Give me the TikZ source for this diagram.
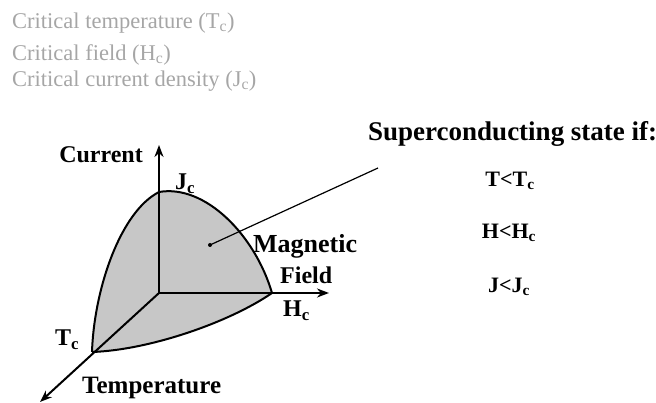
\documentclass[tikz,border=0pt]{standalone}
\usepackage{fontspec}
\setmainfont{Liberation Serif}
\usetikzlibrary{positioning, arrows.meta}

\begin{document}
\begin{tikzpicture}[x=1pt, y=-1pt,
  >={Stealth[length=12pt, width=9pt]},
  crit/.style={anchor=west, text=black!35, font=\fontsize{22.5}{24}\selectfont, inner sep=0pt},
  axlbl/.style={font=\bfseries\fontsize{24}{26}\selectfont, inner sep=0pt},
  cond/.style={font=\bfseries\fontsize{22}{24}\selectfont, inner sep=0pt},
  axis/.style={draw, line width=2pt, ->},
  rim/.style={draw, line width=2pt, line join=round}]
\useasboundingbox (0,0) rectangle (656,403);
% critical quantities
\node[crit] (ct) at (12,23) {Critical temperature (T\textsubscript{c})};
\node[crit] (cf) at (12,55) {Critical field (H\textsubscript{c})};
\node[crit] (cj) at (12,81) {Critical current density (J\textsubscript{c})};
% axes points
\coordinate (O)    at (159,293);
\coordinate (Jc)   at (159,192);
\coordinate (Hc)   at (272,293);
\coordinate (Tc)   at (92,352);
\coordinate (Ctop) at (159,145);
\coordinate (Hend) at (329,293);
\coordinate (Tend) at (40,402);
% superconducting region
\path[fill=black!22] (Jc) .. controls (205,184) and (255,235) .. (Hc)
  .. controls (230,322) and (150,350) .. (Tc)
  .. controls (94,290) and (120,212) .. cycle;
\draw[rim] (Jc) .. controls (205,184) and (255,235) .. (Hc);
\draw[rim] (Hc) .. controls (230,322) and (150,350) .. (Tc);
\draw[rim] (Tc) .. controls (94,290) and (120,212) .. (Jc);
\draw[axis] (O) -- (Ctop);
\draw[axis] (O) -- (Hend);
\draw[axis] (O) -- (Tend);
% labels
\node[axlbl, anchor=east] (cur) at (143,155) {Current};
\node[axlbl, anchor=west] (jl) at (175,184) {J\textsubscript{c}};
\node[axlbl, anchor=west] (tl) at (55,340) {T\textsubscript{c}};
\node[axlbl, anchor=west, font=\bfseries\fontsize{25}{26}\selectfont] (tmp) at (82,388) {Temperature};
\node[axlbl, anchor=west, font=\bfseries\fontsize{26}{26}\selectfont] (mag) at (253,246) {Magnetic};
\node[axlbl, anchor=west] (fld) at (280,275) {Field};
\node[axlbl, anchor=west] (hl) at (283,311) {H\textsubscript{c}};
% pointer to the region
\coordinate (pdot) at (210,245);
\coordinate (pend) at (378,168);
\fill (pdot) circle (2pt);
\draw[line width=1.2pt] (pdot) -- (pend);
% conditions
\node[cond, anchor=west, font=\bfseries\fontsize{27}{28}\selectfont] (title) at (368,134) {Superconducting state if:};
\node[cond] (c1) at (510,181) {T<T\textsubscript{c}};
\node[cond] (c2) at (509,233) {H<H\textsubscript{c}};
\node[cond] (c3) at (509,287) {J<J\textsubscript{c}};
\end{tikzpicture}
\end{document}
